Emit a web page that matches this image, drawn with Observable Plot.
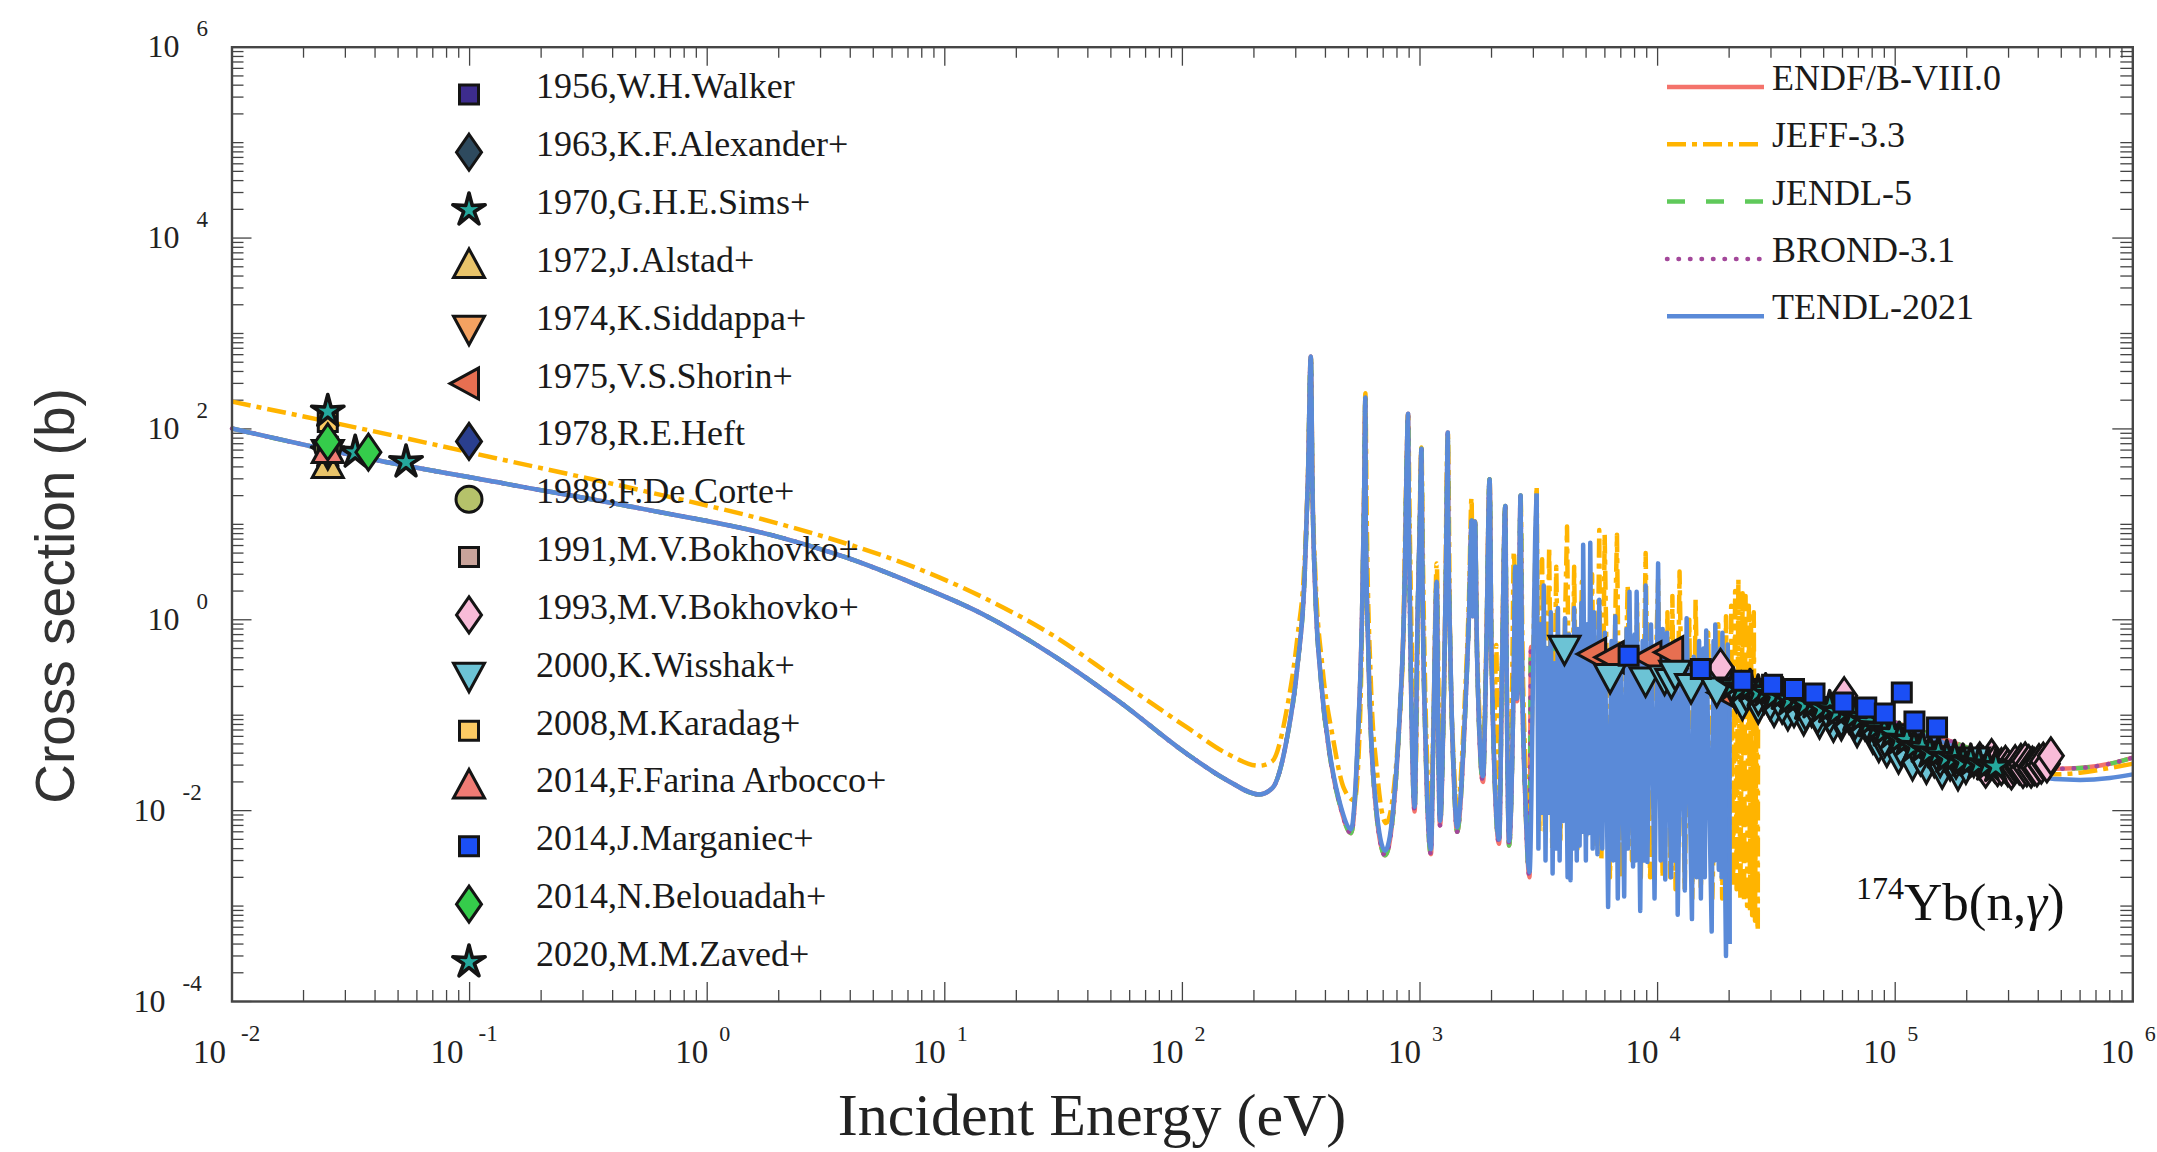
<!DOCTYPE html>
<html>
<head>
<meta charset="utf-8">
<script src="https://cdn.jsdelivr.net/npm/d3@7"></script>
<script src="https://cdn.jsdelivr.net/npm/@observablehq/plot@0.6"></script>
<style>
  html, body { margin: 0; padding: 0; background: #fff; overflow: hidden; }
  #chart svg { display: block; }
</style>
</head>
<body>
<div id="chart"></div>
<script>
// ---------- evaluated capture cross sections, [energy (eV), sigma (b)] ----------
// TENDL-2021: thermal + resolved resonances, dense structure 3-20 keV, fast region
const tendlResolved = [
  [0.01, 101], [0.0375, 49], [0.141, 26.7], [0.528, 14.6], [1.99, 7.4], [3.84, 4.5], [7.44, 2.38],
  [14.4, 1.15], [27.9, 0.44], [54, 0.14], [105, 0.039], [156, 0.0205], [210, 0.0148],
  [239, 0.0172], [275, 0.056], [305, 0.33], [327, 2.9], [338, 34], [347, 574], [353, 21], [363, 1.8],
  [382, 0.25], [416, 0.042], [462, 0.0116], [513, 0.0064],
  [547, 0.056], [570, 1.09], [582, 21], [589, 214], [591, 12.8], [607, 0.41], [639, 0.0205], [713, 0.0038],
  [828, 0.15], [863, 2.9], [877, 34], [891, 144], [899, 7.8], [919, 0.15], [949, 0.011],
  [977, 1.09], [1000, 12.8], [1014, 62], [1024, 2.9], [1055, 0.056], [1112, 0.00395],
  [1137, 0.056], [1176, 2.5], [1194, 0.056], [1214, 0.0078],
  [1259, 0.15], [1285, 2.9], [1297, 21], [1309, 92], [1315, 12.8], [1343, 0.41], [1391, 0.0205], [1432, 0.0067],
  [1543, 0.092], [1607, 1.09], [1651, 11], [1667, 1.09], [1703, 10.7], [1739, 0.41], [1841, 0.023],
  [1900, 0.41], [1963, 29.7], [2000, 0.41], [2152, 0.005],
  [2218, 0.41], [2286, 15.6], [2312, 0.41], [2371, 0.0048],
  [2482, 0.3], [2518, 3.6], [2560, 0.15], [2600, 0.5], [2650, 20], [2685, 0.41], [2780, 0.0126], [2891, 0.00226],
  [2998, 0.41], [3055, 7.8], [3098, 21]
];
const tendlDense = [
  [3098, 21],
  [3150, 0.004], [3206, 0.9], [3260, 0.0095], [3318, 2.28], [3375, 0.003], [3433, 0.5], [3490, 0.0095],
  [3553, 1.2], [3615, 0.0022], [3677, 0.35], [3740, 0.004], [3806, 1.33], [3870, 0.003], [3939, 0.6],
  [4000, 0.0078], [4077, 1.04], [4180, 0.002], [4240, 0.7], [4300, 0.00187], [4380, 0.4], [4420, 0.004],
  [4455, 1.33], [4570, 0.003], [4620, 0.8], [4695, 0.0043], [4780, 1.5], [4820, 0.006], [4861, 6.1],
  [4990, 0.003], [5050, 0.9], [5117, 0.0058], [5207, 6.4], [5330, 0.004], [5400, 1.2], [5583, 0.0035],
  [5681, 1.62], [5850, 0.004], [6000, 0.73], [6190, 0.00098], [6400, 0.6], [6500, 0.003], [6633, 1.09],
  [6800, 0.0012], [7000, 0.5], [7233, 0.00126], [7400, 0.8], [7500, 0.004], [7614, 1.97], [7884, 0.0026],
  [8000, 0.7], [8080, 0.003], [8162, 1.97], [8451, 0.00089], [8650, 0.6], [8750, 0.003], [8906, 2.28],
  [9057, 0.0029], [9376, 0.89], [9708, 0.0012], [10050, 3.9], [10300, 0.003], [10500, 0.8], [10770, 0.0019],
  [10960, 0.73], [11400, 0.002], [11600, 0.5], [11800, 0.003], [11940, 0.6], [12150, 0.00081], [12600, 0.5],
  [13020, 0.00146], [13250, 1.04], [13950, 0.00073], [14190, 0.41], [14600, 0.002], [14950, 0.6],
  [15210, 0.0012], [15600, 0.5], [15800, 0.002], [16020, 0.77], [16890, 0.00054], [17200, 0.6],
  [17350, 0.003], [17490, 0.89], [18100, 0.0024], [18400, 0.5], [18600, 0.002], [18740, 0.73],
  [19400, 0.0003], [19740, 0.55], [20080, 0.0004]
];
const tendlFast = [
  [20080, 0.0004], [20100, 0.25], [40000, 0.16], [80000, 0.095], [150000, 0.055], [250000, 0.033],
  [400000, 0.023], [470000, 0.0214], [600000, 0.021], [800000, 0.022], [1000000, 0.024]
];

// JEFF-3.3
const jeffResolved = [
  [0.01, 193], [0.0375, 97], [0.141, 47], [0.528, 22.7], [1.99, 10.2], [3.84, 6.3], [7.44, 3.56],
  [14.4, 1.73], [27.9, 0.71], [54, 0.23], [105, 0.074], [156, 0.039], [210, 0.0295],
  [239, 0.033], [275, 0.115], [305, 0.66], [327, 4.3], [338, 36], [347, 560], [353, 24], [363, 2.9],
  [388, 0.33], [431, 0.056], [478, 0.0172], [530, 0.0128],
  [560, 0.1], [582, 25], [589, 236], [596, 15], [620, 0.25], [660, 0.025], [720, 0.0074],
  [840, 0.25], [877, 38], [891, 150], [905, 10], [930, 0.2], [952, 0.0156],
  [985, 1.5], [1014, 64], [1030, 3.5], [1060, 0.08], [1110, 0.0095],
  [1140, 0.1], [1176, 3.9], [1200, 0.1], [1214, 0.0128],
  [1265, 0.25], [1309, 92], [1340, 0.5], [1390, 0.03], [1432, 0.01],
  [1545, 0.15], [1610, 2], [1648, 19], [1667, 1.5], [1703, 10.7], [1739, 0.5], [1841, 0.04],
  [1900, 0.5], [1963, 29.7], [2000, 0.5], [2050, 0.06], [2094, 0.545], [2120, 0.05], [2152, 0.0095],
  [2218, 0.5], [2286, 15.6], [2312, 0.5], [2371, 0.009],
  [2450, 0.4], [2482, 5.2], [2560, 0.2], [2620, 0.6], [2650, 20], [2700, 0.5], [2780, 0.03], [2880, 0.0067],
  [2998, 0.5], [3098, 24]
];
const jeffDense = [
  [3098, 24],
  [3180, 0.006], [3266, 4.3], [3350, 0.006], [3497, 5.8], [3600, 0.004], [3746, 3.6], [3900, 0.005],
  [4157, 9.5], [4300, 0.003], [4455, 3.6], [4600, 0.004], [4800, 2.5], [5000, 0.005], [5300, 3.0],
  [5500, 0.004], [5681, 8.7], [5800, 0.003], [5987, 7.8], [6300, 0.002], [6745, 7.8], [7000, 0.002],
  [7484, 2.28], [7800, 0.003], [8200, 1.5], [8500, 0.002], [8906, 5.0], [9300, 0.002], [10050, 2.65],
  [10500, 0.002], [11000, 1.2], [11300, 0.002], [11540, 1.78], [11900, 0.0015], [12370, 3.2], [13000, 0.0015],
  [13600, 1.0], [14000, 0.0012], [14450, 1.62], [15200, 0.0015], [16320, 0.73], [17000, 0.0012], [18000, 0.9],
  [18700, 0.0012], [19400, 1.09], [20000, 0.0014], [20400, 1.4], [20800, 0.0016], [21200, 2.0], [21500, 0.0015],
  [21880, 2.65], [22300, 0.0012], [22800, 1.9], [23100, 0.0011], [23450, 1.78], [23800, 0.001], [24200, 1.4],
  [24500, 0.0009], [24720, 1.09], [25000, 0.0008], [25400, 1.2], [25700, 0.0007], [26060, 0.15], [26400, 0.00058]
];
const jeffFast = [
  [26400, 0.00058], [26500, 0.2], [50000, 0.13], [100000, 0.075], [200000, 0.04], [350000, 0.027],
  [470000, 0.024], [600000, 0.025], [800000, 0.028], [1000000, 0.031]
];

// ENDF/B-VIII.0, JENDL-5 and BROND-3.1 coincide on this scale
const endfJendlBrond = [
  [0.01, 101], [0.0375, 49], [0.141, 26.7], [0.528, 14.6], [1.99, 7.4], [3.84, 4.5], [7.44, 2.38],
  [14.4, 1.15], [27.9, 0.44], [54, 0.14], [105, 0.039], [156, 0.0205], [210, 0.0148],
  [239, 0.0172], [275, 0.056], [305, 0.33], [327, 2.9], [338, 34], [347, 574], [353, 21], [363, 1.8],
  [382, 0.25], [416, 0.04], [462, 0.011], [513, 0.0058],
  [547, 0.05], [570, 1.09], [582, 21], [589, 214], [591, 12.8], [607, 0.41], [639, 0.019], [713, 0.0034],
  [828, 0.14], [863, 2.9], [877, 34], [891, 144], [899, 7.8], [919, 0.14], [949, 0.0098],
  [977, 1.09], [1000, 12.8], [1014, 62], [1024, 2.9], [1055, 0.05], [1112, 0.0035],
  [1137, 0.05], [1176, 2.5], [1194, 0.05], [1214, 0.007],
  [1259, 0.14], [1285, 2.9], [1297, 21], [1309, 92], [1315, 12.8], [1343, 0.41], [1391, 0.019], [1432, 0.006],
  [1543, 0.085], [1607, 1.09], [1651, 11], [1667, 1.09], [1703, 10.7], [1739, 0.41], [1841, 0.02],
  [1900, 0.41], [1963, 29.7], [2000, 0.41], [2152, 0.0045],
  [2218, 0.41], [2286, 15.6], [2312, 0.41], [2371, 0.0043],
  [2482, 0.3], [2518, 3.6], [2560, 0.14], [2600, 0.5], [2650, 20], [2685, 0.41], [2780, 0.0115], [2891, 0.002],
  [2930, 0.52], [4000, 0.48], [6000, 0.4], [10000, 0.32], [20000, 0.24], [40000, 0.165], [80000, 0.1],
  [150000, 0.06], [250000, 0.038], [400000, 0.029], [470000, 0.0275], [600000, 0.028], [800000, 0.031],
  [1000000, 0.036]
];

// ---------- measurements, [energy (eV), sigma (b)] ----------
const walker1956 = [[0.0253, 65]];
const alexander1963 = [[0.0253, 69]];
const sims1970 = [[0.0253, 57], [0.033, 57]];
const alstad1972 = [[0.0253, 39]];
const siddappa1974 = [[0.0253, 60]];
const shorin1975 = [[5510, 0.438], [6540, 0.404], [9420, 0.404], [11640, 0.456], [19500, 0.173]];
const heft1978 = [[0.0253, 66]];
const deCorte1988 = [[0.0253, 63]];
const bokhovko1991 = [[0.0253, 62]];
const bokhovko1993 = [
  [18400, 0.318], [61000, 0.16], [226900, 0.0332], [235000, 0.03], [240300, 0.0272], [254500, 0.036],
  [262000, 0.031], [269600, 0.0283], [280000, 0.029], [291000, 0.0306], [298000, 0.028], [308400, 0.0261],
  [315000, 0.029], [320000, 0.031], [332900, 0.0294], [338000, 0.032], [345000, 0.027], [352500, 0.0332],
  [358000, 0.028], [365000, 0.031], [373300, 0.0272], [378000, 0.03], [385000, 0.029], [395000, 0.028],
  [402900, 0.0319], [412000, 0.03], [420000, 0.033], [435000, 0.031], [452000, 0.0375]
];
const wisshak2000 = [
  [21480, 0.173], [22750, 0.142], [24550, 0.188], [26520, 0.131], [28100, 0.166], [30920, 0.121],
  [32750, 0.154], [35340, 0.111], [38160, 0.136], [41200, 0.0986], [44480, 0.121], [48030, 0.091],
  [51870, 0.111], [54960, 0.0839], [59340, 0.0873], [64000, 0.1026], [69130, 0.0743], [74630, 0.0873],
  [80560, 0.0632], [85310, 0.0517], [92190, 0.0459], [97660, 0.0632], [103300, 0.039], [111600, 0.0459],
  [118300, 0.0332], [125300, 0.0406], [135300, 0.0306], [146000, 0.036], [157700, 0.0272], [170300, 0.0332],
  [183800, 0.0261], [198400, 0.0306],
  [4055, 0.536], [6310, 0.27], [8900, 0.249], [10700, 0.26], [11430, 0.239], [11860, 0.292], [13830, 0.212],
  [17740, 0.195], [23660, 0.175], [26550, 0.16], [29790, 0.142], [33430, 0.131], [37510, 0.12],
  [42030, 0.111], [47140, 0.1026], [52900, 0.1026], [59340, 0.0946], [67900, 0.0909], [77630, 0.0806],
  [90400, 0.0583], [105400, 0.0477], [127700, 0.0375], [154600, 0.036], [180300, 0.0346], [214200, 0.036]
];
const karadag2008 = [[0.0253, 118]];
const farinaArbocco2014 = [[0.0253, 56]];
const marganiec2014 = [
  [7550, 0.421], [15200, 0.305], [22740, 0.23], [30330, 0.209], [37500, 0.188], [45750, 0.169],
  [60530, 0.136], [75550, 0.1206], [90400, 0.104], [106600, 0.173], [120500, 0.086], [150000, 0.0743]
];
const belouadah2014 = [[0.0253, 73], [0.0375, 57]];
const zaved2020 = [
  [0.0253, 152], [0.054, 45],
  [20800, 0.21], [22500, 0.19], [24500, 0.2], [26500, 0.175], [28500, 0.18], [31000, 0.16], [33500, 0.165],
  [36000, 0.145], [39000, 0.15], [42000, 0.13], [45500, 0.135], [49000, 0.118], [53000, 0.12], [57000, 0.108],
  [62000, 0.11], [67000, 0.098], [72000, 0.095], [78000, 0.085], [84000, 0.075], [90000, 0.068], [97000, 0.065],
  [104000, 0.056], [112000, 0.055], [120000, 0.047], [130000, 0.046], [140000, 0.041], [152000, 0.04],
  [165000, 0.036], [178000, 0.036], [193000, 0.033], [208000, 0.033], [225000, 0.031], [245000, 0.03],
  [265000, 0.029]
];

// ---------- axis ticks ----------
const xTickExponents = [-2, -1, 0, 1, 2, 3, 4, 5, 6];
const yTickExponents = [-4, -2, 0, 2, 4, 6];

// ---------- marker shapes (unit geometry, scaled by the dot radius) ----------
function polygonSymbol(points) {
  return {
    draw(ctx, size) {
      const r = Math.sqrt(size / Math.PI);
      ctx.moveTo(points[0][0] * r, points[0][1] * r);
      for (let i = 1; i < points.length; ++i) ctx.lineTo(points[i][0] * r, points[i][1] * r);
      ctx.closePath();
    }
  };
}
const symSquare = polygonSymbol([[-0.95, -0.95], [0.95, -0.95], [0.95, 0.95], [-0.95, 0.95]]);
const symDiamond = polygonSymbol([[0, -1.8], [1.25, 0], [0, 1.8], [-1.25, 0]]);
const symTriUp = polygonSymbol([[0, -1.9], [1.55, 0.95], [-1.55, 0.95]]);
const symTriDown = polygonSymbol([[-1.55, -0.95], [1.55, -0.95], [0, 1.9]]);
const symTriLeft = polygonSymbol([[-1.9, 0], [0.95, -1.55], [0.95, 1.55]]);
const symStar = polygonSymbol(d3.range(10).map(k => {
  const a = -Math.PI / 2 + k * Math.PI / 5, rr = k % 2 ? 0.56 : 1.7;
  return [rr * Math.cos(a), rr * Math.sin(a)];
}));
const symCircle = {
  draw(ctx, size) {
    const r = Math.sqrt(size / Math.PI) * 1.3;
    ctx.moveTo(r, 0);
    ctx.arc(0, 0, r, 0, 2 * Math.PI);
  }
};

const experiments = [
  {label: "1956,W.H.Walker", data: walker1956, symbol: symSquare, fill: "#3d2c8d"},
  {label: "1963,K.F.Alexander+", data: alexander1963, symbol: symDiamond, fill: "#2e4a5e"},
  {label: "1970,G.H.E.Sims+", data: sims1970, symbol: symStar, fill: "#25a89d"},
  {label: "1972,J.Alstad+", data: alstad1972, symbol: symTriUp, fill: "#e9c46a"},
  {label: "1974,K.Siddappa+", data: siddappa1974, symbol: symTriDown, fill: "#f4a261"},
  {label: "1975,V.S.Shorin+", data: shorin1975, symbol: symTriLeft, fill: "#e76f51"},
  {label: "1978,R.E.Heft", data: heft1978, symbol: symDiamond, fill: "#2a3f8f"},
  {label: "1988,F.De Corte+", data: deCorte1988, symbol: symCircle, fill: "#b5c26a"},
  {label: "1991,M.V.Bokhovko+", data: bokhovko1991, symbol: symSquare, fill: "#c9a39a"},
  {label: "1993,M.V.Bokhovko+", data: bokhovko1993, symbol: symDiamond, fill: "#f8bbd8"},
  {label: "2000,K.Wisshak+", data: wisshak2000, symbol: symTriDown, fill: "#6cc3d5"},
  {label: "2008,M.Karadag+", data: karadag2008, symbol: symSquare, fill: "#fcca63"},
  {label: "2014,F.Farina Arbocco+", data: farinaArbocco2014, symbol: symTriUp, fill: "#f07b74"},
  {label: "2014,J.Marganiec+", data: marganiec2014, symbol: symSquare, fill: "#1b4ff5"},
  {label: "2014,N.Belouadah+", data: belouadah2014, symbol: symDiamond, fill: "#35cc4b"},
  {label: "2020,M.M.Zaved+", data: zaved2020, symbol: symStar, fill: "#25a89d"}
];
// the Marganiec squares are painted last so they stay readable over the dense points
const markerOrder = [
  ...experiments.filter(ex => ex.data !== marganiec2014),
  ...experiments.filter(ex => ex.data === marganiec2014)
];

const libraries = [
  {label: "ENDF/B-VIII.0", parts: [[endfJendlBrond, "monotone-x"]], stroke: "#f4736b", dash: null, cap: "butt"},
  {label: "JEFF-3.3", parts: [[jeffResolved, "monotone-x"], [jeffDense, "linear"], [jeffFast, "monotone-x"]], stroke: "#ffb400", dash: "19,6,5,6", cap: "butt"},
  {label: "JENDL-5", parts: [[endfJendlBrond, "monotone-x"]], stroke: "#5fc95a", dash: "18,21", cap: "butt"},
  {label: "BROND-3.1", parts: [[endfJendlBrond, "monotone-x"]], stroke: "#a3479a", dash: "0.5,11", cap: "round"},
  {label: "TENDL-2021", parts: [[tendlResolved, "monotone-x"], [tendlDense, "linear"], [tendlFast, "monotone-x"]], stroke: "#5a8ad8", dash: null, cap: "butt"}
];

// ---------- layout ----------
const W = 2157, H = 1152;
const mL = 231.5, mR = 24.7, mT = 46.7, mB = 151;
const innerW = W - mL - mR, innerH = H - mT - mB;

const xMajor = xTickExponents.map(e => 10 ** e);
const xMinor = [];
for (let e = -2; e < 6; ++e) for (let k = 2; k <= 9; ++k) xMinor.push(k * 10 ** e);
const yMajor = yTickExponents.map(e => 10 ** e);
const yMinor = [];
for (let e = -4; e < 6; ++e) {
  if (e % 2 !== 0) yMinor.push(10 ** e);
  for (let k = 2; k <= 9; ++k) yMinor.push(k * 10 ** e);
}

const tickStyle = {stroke: "#444", strokeWidth: 1.3};
const labelStyle = {fontFamily: "Liberation Serif", fill: "#222", lineAnchor: "bottom"};
const xNeg = xTickExponents.filter(e => e < 0), xPos = xTickExponents.filter(e => e >= 0);
const yNeg = yTickExponents.filter(e => e < 0), yPos = yTickExponents.filter(e => e >= 0);

const chart = Plot.plot({
  width: W,
  height: H,
  marginLeft: mL,
  marginRight: mR,
  marginTop: mT,
  marginBottom: mB,
  style: {background: "#fff", fontFamily: "Liberation Serif"},
  x: {type: "log", domain: [1e-2, 1e6], axis: null},
  y: {type: "log", domain: [1e-4, 1e6], axis: null},
  marks: [
    // inward ticks on all four sides
    Plot.ruleX(xMajor, {x: d => d, insetTop: innerH - 19, ...tickStyle}),
    Plot.ruleX(xMajor, {x: d => d, insetBottom: innerH - 19, ...tickStyle}),
    Plot.ruleX(xMinor, {x: d => d, insetTop: innerH - 11, ...tickStyle}),
    Plot.ruleX(xMinor, {x: d => d, insetBottom: innerH - 11, ...tickStyle}),
    Plot.ruleY(yMajor, {y: d => d, insetRight: innerW - 20, ...tickStyle}),
    Plot.ruleY(yMajor, {y: d => d, insetLeft: innerW - 20, ...tickStyle}),
    Plot.ruleY(yMinor, {y: d => d, insetRight: innerW - 12, ...tickStyle}),
    Plot.ruleY(yMinor, {y: d => d, insetLeft: innerW - 12, ...tickStyle}),

    // evaluated libraries
    ...libraries.flatMap(lib => lib.parts.map(([data, curve]) => Plot.line(data, {
      x: d => d[0], y: d => d[1],
      curve,
      stroke: lib.stroke, strokeWidth: 4.5,
      strokeDasharray: lib.dash, strokeLinecap: lib.cap, strokeLinejoin: "round"
    }))),

    // measurements
    ...markerOrder.map(ex => Plot.dot(ex.data, {
      x: d => d[0], y: d => d[1],
      symbol: ex.symbol, r: 10,
      fill: ex.fill, stroke: "#141414",
      strokeWidth: ex.symbol === symStar ? 3.6 : 3,
      strokeLinejoin: ex.symbol === symStar ? "round" : "miter"
    })),

    Plot.frame({stroke: "#464646", strokeWidth: 2.4}),

    // tick labels: "10" with a raised exponent
    Plot.text(xNeg, {x: e => 10 ** e, frameAnchor: "bottom", text: () => "10", textAnchor: "end", dx: -6, dy: 61, fontSize: 33, ...labelStyle}),
    Plot.text(xNeg, {x: e => 10 ** e, frameAnchor: "bottom", text: e => String(e), textAnchor: "start", dx: 9, dy: 39, fontSize: 23, ...labelStyle}),
    Plot.text(xPos, {x: e => 10 ** e, frameAnchor: "bottom", text: () => "10", textAnchor: "end", dx: 1, dy: 61, fontSize: 33, ...labelStyle}),
    Plot.text(xPos, {x: e => 10 ** e, frameAnchor: "bottom", text: e => String(e), textAnchor: "start", dx: 12, dy: 39, fontSize: 22, ...labelStyle}),
    Plot.text(yNeg, {y: e => 10 ** e, frameAnchor: "left", text: () => "10", textAnchor: "end", dx: -66.5, dy: 10, fontSize: 32, ...labelStyle}),
    Plot.text(yNeg, {y: e => 10 ** e, frameAnchor: "left", text: e => String(e), textAnchor: "start", dx: -49.5, dy: -11, fontSize: 23, ...labelStyle}),
    Plot.text(yPos, {y: e => 10 ** e, frameAnchor: "left", text: () => "10", textAnchor: "end", dx: -52.5, dy: 10, fontSize: 32, ...labelStyle}),
    Plot.text(yPos, {y: e => 10 ** e, frameAnchor: "left", text: e => String(e), textAnchor: "start", dx: -35.5, dy: -11, fontSize: 23, ...labelStyle})
  ]
});

document.getElementById("chart").appendChild(chart);
const svg = d3.select(chart);

// axis titles
svg.append("text")
  .attr("x", 1092).attr("y", 1135)
  .attr("text-anchor", "middle")
  .attr("font-family", "Liberation Serif").attr("font-size", 60).attr("fill", "#222")
  .text("Incident Energy (eV)");
svg.append("text")
  .attr("transform", "translate(74,596) rotate(-90)")
  .attr("text-anchor", "middle")
  .attr("font-family", "Liberation Sans").attr("font-size", 55).attr("fill", "#333")
  .text("Cross section (b)");

// reaction label
const reaction = svg.append("text")
  .attr("x", 1856).attr("y", 920)
  .attr("text-anchor", "start")
  .attr("font-family", "Liberation Serif").attr("fill", "#111");
reaction.append("tspan").attr("font-size", 32).attr("dy", -21).text("174");
reaction.append("tspan").attr("font-size", 53).attr("dy", 21).text("Yb(n,");
reaction.append("tspan").attr("font-size", 53).attr("font-style", "italic").text("γ");
reaction.append("tspan").attr("font-size", 53).text(")");

// legend of measurements
const expLegend = svg.append("g")
  .attr("text-anchor", "start")
  .attr("font-family", "Liberation Serif").attr("font-size", 36).attr("fill", "#1a1a1a");
experiments.forEach((ex, i) => {
  const y = 94.4 + i * 57.84;
  expLegend.append("path")
    .attr("transform", `translate(469,${y})`)
    .attr("d", d3.symbol(ex.symbol, Math.PI * 100)())
    .attr("fill", ex.fill).attr("stroke", "#141414")
    .attr("stroke-width", ex.symbol === symStar ? 3.6 : 3)
    .attr("stroke-linejoin", ex.symbol === symStar ? "round" : "miter");
  expLegend.append("text").attr("x", 536).attr("y", y + 4).text(ex.label);
});

// legend of evaluations
const libLegend = svg.append("g")
  .attr("text-anchor", "start")
  .attr("font-family", "Liberation Serif").attr("font-size", 36).attr("fill", "#1a1a1a");
libraries.forEach((lib, i) => {
  const y = 87 + i * 57.3;
  libLegend.append("line")
    .attr("x1", 1667).attr("x2", 1764).attr("y1", y).attr("y2", y)
    .attr("stroke", lib.stroke).attr("stroke-width", 4.5)
    .attr("stroke-dasharray", lib.dash).attr("stroke-linecap", lib.cap);
  libLegend.append("text").attr("x", 1772).attr("y", y + 3).text(lib.label);
});
</script>
</body>
</html>
